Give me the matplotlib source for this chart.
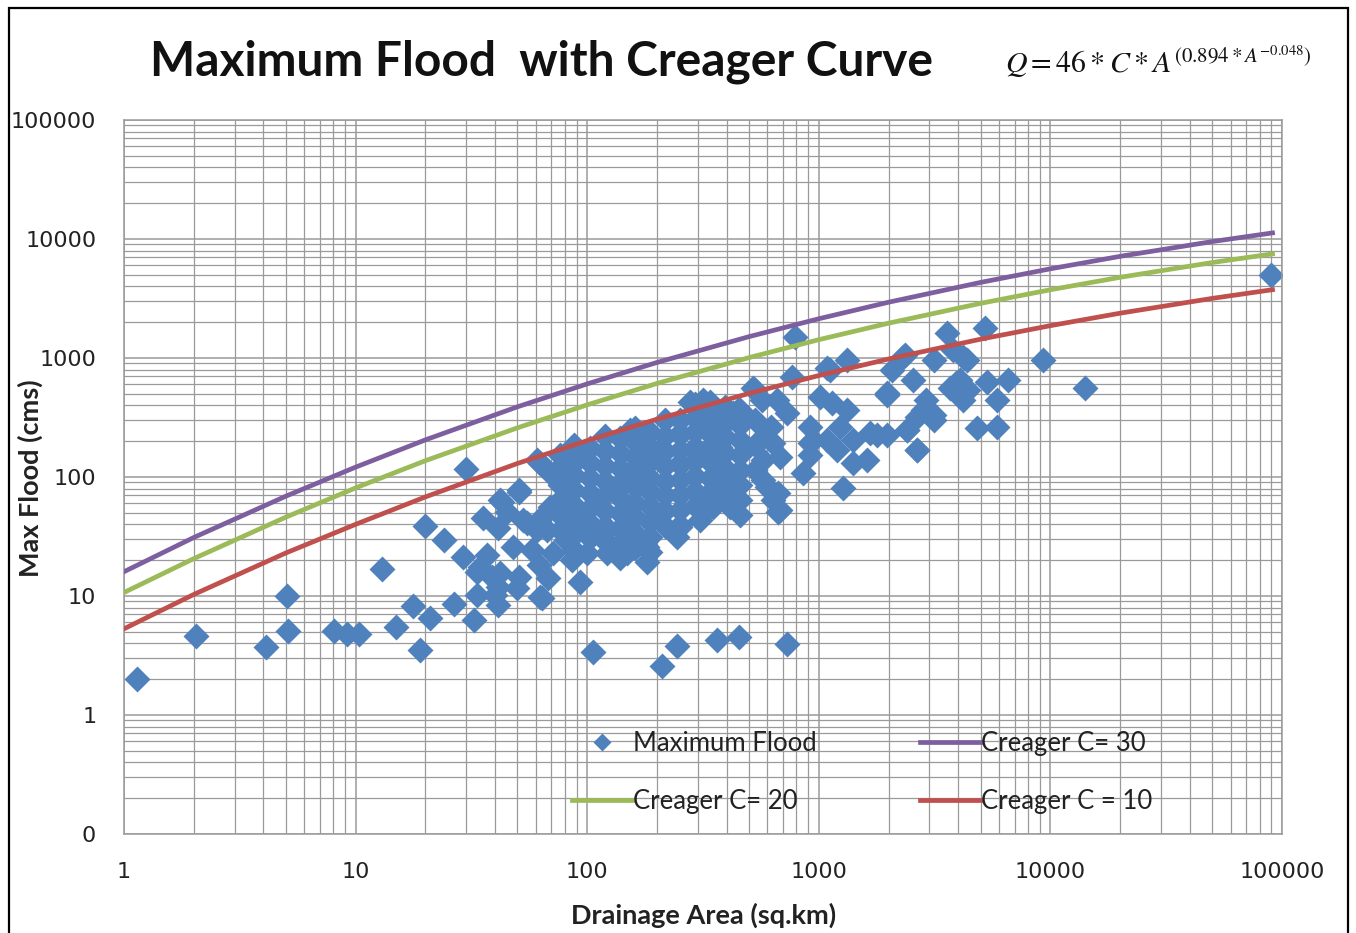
import matplotlib
matplotlib.use("Agg")
import matplotlib.pyplot as plt
from matplotlib.patches import Rectangle
from matplotlib.ticker import FixedLocator, FixedFormatter, NullFormatter

# ---------------- data ----------------
x_ticks = [1, 10, 100, 1000, 10000, 100000]
x_tick_labels = ["1", "10", "100", "1000", "10000", "100000"]
y_ticks = [0.1, 1, 10, 100, 1000, 10000, 100000]
y_tick_labels = ["0", "1", "10", "100", "1000", "10000", "100000"]

# Creager envelope curves
curve_area = [1, 2, 5, 10, 20, 50, 100, 200, 500, 1000, 2000, 5000, 10000, 20000, 50000, 91000]
creager_c10 = [5.3, 10.3, 23, 40, 68, 130, 202, 306, 504, 712, 981, 1440, 1870, 2380, 3170, 3750]
creager_c20 = [10.7, 20.6, 46, 81, 137, 259, 404, 611, 1008, 1425, 1961, 2880, 3745, 4766, 6343, 7500]
creager_c30 = [16, 31, 69, 121, 205, 389, 606, 917, 1512, 2137, 2942, 4319, 5617, 7150, 9515, 11250]

# Maximum flood observations (drainage area sq.km, flood cms)
area_km2 = [
    1.14, 2.05, 4.1, 5.05, 5.1, 8.1, 9.2, 10.3, 13, 15, 17.7, 19, 20, 24, 21, 26.5, 30,
    106, 210, 244, 363, 452, 729,
    32.5, 33.5, 41, 41, 29, 37, 33.5, 42, 51, 50, 62, 64, 68, 93, 34.4, 40, 35.5, 41, 43, 51,
    45, 53, 61, 61, 69, 78, 86, 58, 48, 71, 76, 81, 87, 86, 64, 42, 39, 62.5, 181, 122, 81,
    67, 55, 69, 93, 110, 139, 169, 206, 252, 298, 374, 400, 252, 200, 148, 122, 307, 385,
    245, 181, 100, 148, 62.5, 82, 93, 51, 278, 316, 153, 252, 307, 350, 425,
    76, 76, 76, 76, 76, 76,
    88, 88, 88, 88, 88, 88, 88, 88,
    103, 103, 103, 103, 103, 103, 103,
    119, 119, 119, 119, 119, 119, 119, 119,
    139, 139, 139, 139, 139, 139, 139, 139, 139,
    161, 161, 161, 161, 161, 161, 161, 161, 161,
    187, 187, 187, 187, 187, 187, 187, 187, 187,
    217, 217, 217, 217, 217, 217, 217, 217,
    252, 252, 252, 252, 252, 252, 252, 252,
    292, 292, 292, 292, 292, 292, 292, 292,
    339, 339, 339, 339, 339, 339, 339, 339,
    393, 393, 393, 393, 393, 393, 393,
    457, 457, 457, 457, 457, 457, 457, 457,
    530, 530, 530, 530,
    789, 1324, 1117, 2355, 3575, 5220, 3800, 4365, 9290, 14100, 6560, 5880, 5320, 5880, 4820,
    4075, 4200, 3700, 2552, 1972, 2818, 3150, 2655, 2404, 2900, 1783, 1614, 1406, 1273, 1197,
    1230, 1140, 1324, 1400, 1012, 944, 855, 912, 766, 520, 569, 448, 660, 620, 730, 560, 635,
    575, 680, 575, 665, 665, 635, 414, 400, 443, 375, 1090, 1660, 1085, 912, 680, 600, 425,
    349, 307, 916, 4200, 3150, 2300, 2080, 1970, 3930, 4400, 2930, 2650, 3150, 1970, 2400,
    2650, 90000,
]
max_flood = [
    2.0, 4.6, 3.7, 10.0, 5.1, 5.1, 4.8, 4.8, 16.8, 5.5, 8.3, 3.5, 39, 29.6, 6.5, 8.6, 117,
    3.4, 2.6, 3.8, 4.3, 4.5, 3.95,
    6.3, 10.2, 8.4, 11.9, 21.2, 22, 15.9, 15.6, 14.5, 11.7, 18.2, 9.6, 14.1, 13.1, 17.5, 10.2,
    45, 37, 62, 75, 51, 43.5, 36, 139, 108, 126, 104, 24.4, 26, 23, 50, 68, 36, 20, 46, 64,
    14.5, 9.8, 19.3, 23, 29.6, 36, 41, 56, 50, 64, 82, 131, 169, 131, 158, 178, 108, 38, 46,
    38, 36, 56, 73, 31.5, 26, 23, 23, 131, 139, 147, 78, 427, 444, 248, 235, 301, 216, 345,
    153, 115, 86, 64, 48, 36,
    186, 139, 104, 78, 58, 43.5, 32.5, 24.4,
    175, 131, 98, 73, 55, 41, 30.7,
    222, 165, 124, 93, 70, 52, 39, 29,
    211, 158, 119, 89, 67, 50, 37, 28, 21,
    260, 195, 146, 109, 82, 61, 46, 34, 25.5,
    238, 178, 133, 99, 75, 57, 42, 31.5, 23.5,
    300, 222, 166, 124, 93, 70, 52, 39,
    301, 225, 169, 126, 94, 70, 53, 39.5,
    410, 315, 240, 180, 135, 101, 76, 57,
    425, 318, 238, 178, 133, 99, 75, 57,
    385, 285, 215, 160, 120, 90, 67,
    365, 275, 205, 153, 115, 86, 64, 48,
    538, 301, 186, 115,
    1500, 962, 793, 1060, 1620, 1790, 1170, 962, 962, 560, 653, 444, 628, 263, 260,
    653, 444, 560, 653, 489, 365, 332, 169, 248, 444, 225, 139, 131, 81, 169,
    263, 419, 365, 205, 470, 205, 108, 153, 692, 560, 444, 365, 444, 263, 347, 205, 194,
    139, 147, 94, 73, 51, 64, 56, 94, 64, 205, 205, 235, 824, 193, 53, 82, 73,
    56, 43.5, 263, 1010, 962, 1010, 793, 510, 620, 538, 365, 320, 301, 225, 248,
    169, 5000,
]

title_text = "Maximum Flood  with Creager Curve"
formula_text = r"$Q = 46 * C * A^{\left(0.894 * A^{-0.048}\right)}$"
x_label = "Drainage Area (sq.km)"
y_label = "Max Flood (cms)"
series_names = ["Maximum Flood", "Creager C= 30", "Creager C= 20", "Creager C = 10"]

# ---------------- styling ----------------
W, H = 1356, 933
fig = plt.figure(figsize=(W / 100, H / 100), dpi=100)
fig.patch.set_facecolor("white")
plt.rcParams["mathtext.fontset"] = "stix"

left, right, top, bottom = 124, 1282, 120, 834
ax = fig.add_axes([left / W, 1 - bottom / H, (right - left) / W, (bottom - top) / H])
ax.set_xscale("log")
ax.set_yscale("log")
ax.set_xlim(1, 100000)
ax.set_ylim(0.1, 100000)

grid_col = "#9a9a9a"
ax.grid(True, which="major", color=grid_col, lw=1.1)
ax.grid(True, which="minor", color=grid_col, lw=0.9)
ax.set_axisbelow(True)
for s in ax.spines.values():
    s.set_color(grid_col)
    s.set_linewidth(1.1)

ax.xaxis.set_major_locator(FixedLocator(x_ticks))
ax.xaxis.set_major_formatter(FixedFormatter(x_tick_labels))
ax.yaxis.set_major_locator(FixedLocator(y_ticks))
ax.yaxis.set_major_formatter(FixedFormatter(y_tick_labels))
ax.xaxis.set_minor_formatter(NullFormatter())
ax.yaxis.set_minor_formatter(NullFormatter())
ax.tick_params(which="both", length=0)
ax.tick_params(axis="x", pad=20, labelsize=16, labelcolor="#222222")
ax.tick_params(axis="y", pad=20, labelsize=16, labelcolor="#222222")
for lab in ax.get_xticklabels() + ax.get_yticklabels():
    lab.set_fontfamily("DejaVu Sans")

blue = "#4F81BD"
purple = "#7D5FA0"
green = "#9BBB59"
red = "#C0504D"

h_pts, = ax.plot(area_km2, max_flood, "D", color=blue, ms=13, mec="none",
                 label=series_names[0], zorder=2)
h30, = ax.plot(curve_area, creager_c30, color=purple, lw=3.4, label=series_names[1], zorder=3)
h20, = ax.plot(curve_area, creager_c20, color=green, lw=3.4, label=series_names[2], zorder=3)
h10, = ax.plot(curve_area, creager_c10, color=red, lw=3.4, label=series_names[3], zorder=3)

leg = ax.legend(handles=[h_pts, h20, h30, h10], ncol=2, frameon=False,
                loc="upper left", bbox_to_anchor=((572 - left) / (right - left), (bottom - 731) / (bottom - top)),
                borderaxespad=0, borderpad=0, handlelength=2.33, handletextpad=0.05,
                columnspacing=4.0, labelspacing=1.27, markerscale=0.7,
                prop={"family": "Lato", "size": 18.5})
for t in leg.get_texts():
    t.set_color("#222222")

fig.text(541 / W, 1 - 62 / H, title_text, ha="center", va="center",
         fontsize=34.5, fontweight="bold", family="Lato", color="#111111")
fig.text(1158 / W, 1 - 62 / H, formula_text, ha="center", va="center",
         fontsize=21.5, color="#111111")
fig.text(704 / W, 1 - 915 / H, x_label, ha="center", va="center",
         fontsize=19.5, fontweight="bold", family="Lato", color="#222222")
fig.text(30 / W, 1 - 478 / H, y_label, ha="center", va="center", rotation=90,
         fontsize=19.5, fontweight="bold", family="Lato", color="#222222")

fig.patches.append(Rectangle((9 / W, -0.05), (1348 - 9) / W, 1.05 - 8 / H,
                             transform=fig.transFigure, fill=False, ec="black", lw=1.6))

fig.savefig("out.png", dpi=100, facecolor="white")
